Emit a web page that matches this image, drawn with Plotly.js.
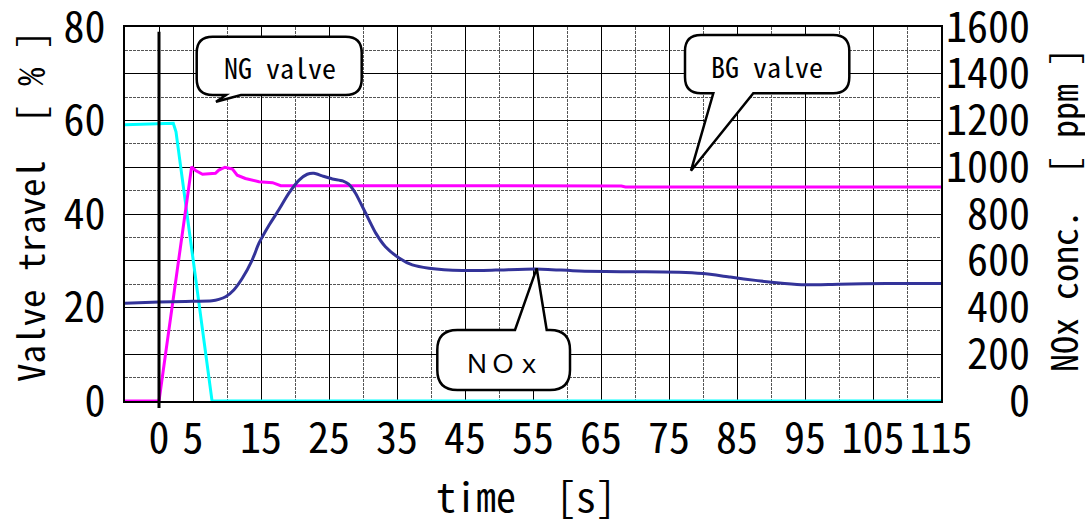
<!DOCTYPE html>
<html>
<head>
<meta charset="utf-8">
<script src="https://cdn.plot.ly/plotly-3.0.1.min.js"></script>
<style>html,body{margin:0;padding:0;background:#fff;}#chart{width:1085px;height:522px;}</style>
</head>
<body>
<div id="chart"></div>
<script>
// ---- data ----
const ngTime  = [-5, -2, 1, 2.1, 2.5, 7.8, 115];
const ngValve = [59.1, 59.2, 59.4, 59.4, 57.6, 0, 0];

const bgTime  = [-5, 0, 4.8, 5.4, 6.4, 7.5, 8.3, 8.8, 9.7, 10.8, 11.5, 12.7, 14.7, 16.7, 17.9, 19, 40, 68, 68.6, 115];
const bgValve = [0, 0, 50.1, 49.3, 48.5, 48.6, 48.7, 49.4, 50.0, 49.6, 48.3, 47.6, 46.9, 46.7, 46.05, 46.05, 46.05, 46.0, 45.8, 45.8];

const noxTime = [-5, 0, 3.9, 7.8, 8.8, 9.8, 11, 12.25, 13.7, 14.7, 16.2, 17.6, 19.1, 20.6, 21.8, 22.8, 24, 25.5, 27, 27.9, 28.9, 30.4, 31.9, 33.3, 35.3, 37.25, 39.7, 44.6, 49.5, 55.4, 61.8, 69.1, 76.5, 80, 84, 88, 92, 95, 100, 107, 115];
const noxPpm  = [418, 423, 426, 429, 435, 446, 475, 525, 603, 675, 753, 817, 889, 945, 970, 974, 963, 950, 942, 928, 889, 803, 717, 660, 612, 582, 568, 558, 560, 565, 556, 553, 551, 545, 530, 515, 503, 497, 500, 503, 503];

const xTickVals  = [0, 5, 15, 25, 35, 45, 55, 65, 75, 85, 95, 105, 115];
const xTickText  = ['0', '5', '15', '25', '35', '45', '55', '65', '75', '85', '95', '105', '115'];
const xMinorVals = [10, 20, 30, 40, 50, 60, 70, 80, 90, 100, 110];
const yTickVals  = [0, 10, 20, 30, 40, 50, 60, 70, 80];
const yTickText  = ['0', '', '20', '', '40', '', '60', '', '80'];
const y2TickVals = [0, 200, 400, 600, 800, 1000, 1200, 1400, 1600];
const y2TickText = ['0', '200', '400', '600', '800', '1000', '1200', '1400', '1600'];

// ---- layout geometry ----
const W = 1085, H = 522;
const L = 125, R = 941, T = 27, B = 401;
const XR = [-5, 115], YR = [0, 80], Y2R = [0, 1600];
const X = px => XR[0] + (px - L) / (R - L) * (XR[1] - XR[0]);
const Y = py => YR[0] + (B - py) / (B - T) * (YR[1] - YR[0]);
const PX = px => (px - L) / (R - L);
const PY = py => (B - py) / (B - T);

const MONO = '"Noto Sans Mono CJK JP", "Noto Sans CJK JP", "Liberation Mono", monospace';
const NBSP = '\u00a0';
const pad = s => NBSP.repeat(4 - s.length) + s;

function P(px, py) { return X(px).toFixed(4) + ',' + Y(py).toFixed(4); }
function bubble(x0, y0, x1, y1, r, tail) {
  let d = 'M ' + P(x0 + r, y0);
  if (tail.edge === 'top') d += ' L ' + P(tail.a, y0) + ' L ' + P(tail.tx, tail.ty) + ' L ' + P(tail.b, y0);
  d += ' L ' + P(x1 - r, y0) + ' Q ' + P(x1, y0) + ' ' + P(x1, y0 + r);
  d += ' L ' + P(x1, y1 - r) + ' Q ' + P(x1, y1) + ' ' + P(x1 - r, y1);
  if (tail.edge === 'bottom') d += ' L ' + P(tail.b, y1) + ' L ' + P(tail.tx, tail.ty) + ' L ' + P(tail.a, y1);
  d += ' L ' + P(x0 + r, y1) + ' Q ' + P(x0, y1) + ' ' + P(x0, y1 - r);
  d += ' L ' + P(x0, y0 + r) + ' Q ' + P(x0, y0) + ' ' + P(x0 + r, y0) + ' Z';
  return {type: 'path', xref: 'x', yref: 'y', path: d, fillcolor: '#ffffff',
          line: {color: '#000000', width: 2.5}, layer: 'above'};
}

const traces = [
  {x: ngTime, y: ngValve, type: 'scatter', mode: 'lines', name: 'NG valve',
   line: {color: '#00ffff', width: 3}, yaxis: 'y'},
  {x: bgTime, y: bgValve, type: 'scatter', mode: 'lines', name: 'BG valve',
   line: {color: '#ff00ff', width: 3}, yaxis: 'y'},
  {x: noxTime, y: noxPpm, type: 'scatter', mode: 'lines', name: 'NOx',
   line: {color: '#333399', width: 3, shape: 'spline', smoothing: 0.6}, yaxis: 'y2'}
];

const tickFont = {family: MONO, size: 42, color: '#000'};

const layout = {
  width: W, height: H,
  margin: {l: L, r: W - R, t: T, b: H - B, pad: 0},
  paper_bgcolor: '#ffffff', plot_bgcolor: '#ffffff',
  showlegend: false,
  xaxis: {
    range: XR, tickmode: 'array', tickvals: xTickVals, ticktext: xTickText,
    tickfont: tickFont, ticks: '', ticklabelstandoff: 0, ticklabeloverflow: 'allow',
    showline: true, mirror: true, linecolor: '#000', linewidth: 2,
    showgrid: true, gridcolor: '#000', gridwidth: 1, zeroline: false,
    minor: {tickmode: 'array', tickvals: xMinorVals, showgrid: true, gridcolor: '#555', gridwidth: 1, griddash: '3px,1px', ticks: ''}
  },
  yaxis: {
    range: YR, tickmode: 'array', tickvals: yTickVals, ticktext: yTickText,
    tickfont: tickFont, ticks: '', ticklabelstandoff: 9, ticklabeloverflow: 'allow',
    showline: true, mirror: true, linecolor: '#000', linewidth: 2,
    showgrid: true, gridcolor: '#000', gridwidth: 1, zeroline: false,
    minor: {tick0: 0, dtick: 5, showgrid: true, gridcolor: '#555', gridwidth: 1, griddash: '3px,1px', ticks: ''}
  },
  yaxis2: {
    range: Y2R, overlaying: 'y', side: 'right', tickmode: 'array',
    tickvals: y2TickVals, ticktext: y2TickText.map(pad),
    tickfont: tickFont, ticks: '', ticklabelstandoff: 4, ticklabeloverflow: 'allow',
    showgrid: false, zeroline: false, showline: false
  },
  shapes: [
    {type: 'line', xref: 'x', yref: 'paper', x0: 0, x1: 0, y0: PY(408), y1: PY(31.7),
     line: {color: '#000', width: 3}, layer: 'above'},
    bubble(196.7, 36.7, 361.7, 95, 16, {edge: 'bottom', a: 226, b: 241, tx: 216, ty: 101.7}),
    bubble(685, 35, 849.3, 93.3, 16, {edge: 'bottom', a: 713.3, b: 753.3, tx: 691, ty: 170.7}),
    bubble(437.3, 330, 570, 390, 20, {edge: 'top', a: 515, b: 546.7, tx: 536.7, ty: 268.3})
  ],
  annotations: [
    {xref: 'x', yref: 'y', x: X(280), y: Y(67), text: 'NG valve', showarrow: false,
     xanchor: 'center', yanchor: 'middle', font: {family: MONO, size: 28, color: '#000'}},
    {xref: 'x', yref: 'y', x: X(767), y: Y(66), text: 'BG valve', showarrow: false,
     xanchor: 'center', yanchor: 'middle', font: {family: MONO, size: 28, color: '#000'}},
    {xref: 'x', yref: 'y', x: X(503.3), y: Y(361), text: 'ＮＯｘ', showarrow: false,
     xanchor: 'center', yanchor: 'middle', font: {family: '"Noto Sans CJK JP", sans-serif', size: 26, color: '#000'}},
    {xref: 'paper', yref: 'paper', x: PX(29), y: PY(206), text: 'Valve travel\u3000[ % ]', showarrow: false,
     textangle: -90, xanchor: 'center', yanchor: 'middle', font: {family: MONO, size: 37, color: '#000'}},
    {xref: 'paper', yref: 'paper', x: PX(1062), y: PY(210), text: 'NOx conc.\u3000[ ppm ]', showarrow: false,
     textangle: -90, xanchor: 'center', yanchor: 'middle', font: {family: MONO, size: 36, color: '#000'}},
    {xref: 'paper', yref: 'paper', x: PX(526), y: PY(495), text: 'time\u3000[s]', showarrow: false,
     xanchor: 'center', yanchor: 'middle', font: {family: MONO, size: 40, color: '#000'}}
  ]
};

Plotly.newPlot('chart', traces, layout, {staticPlot: true, displayModeBar: false});
</script>
</body>
</html>
